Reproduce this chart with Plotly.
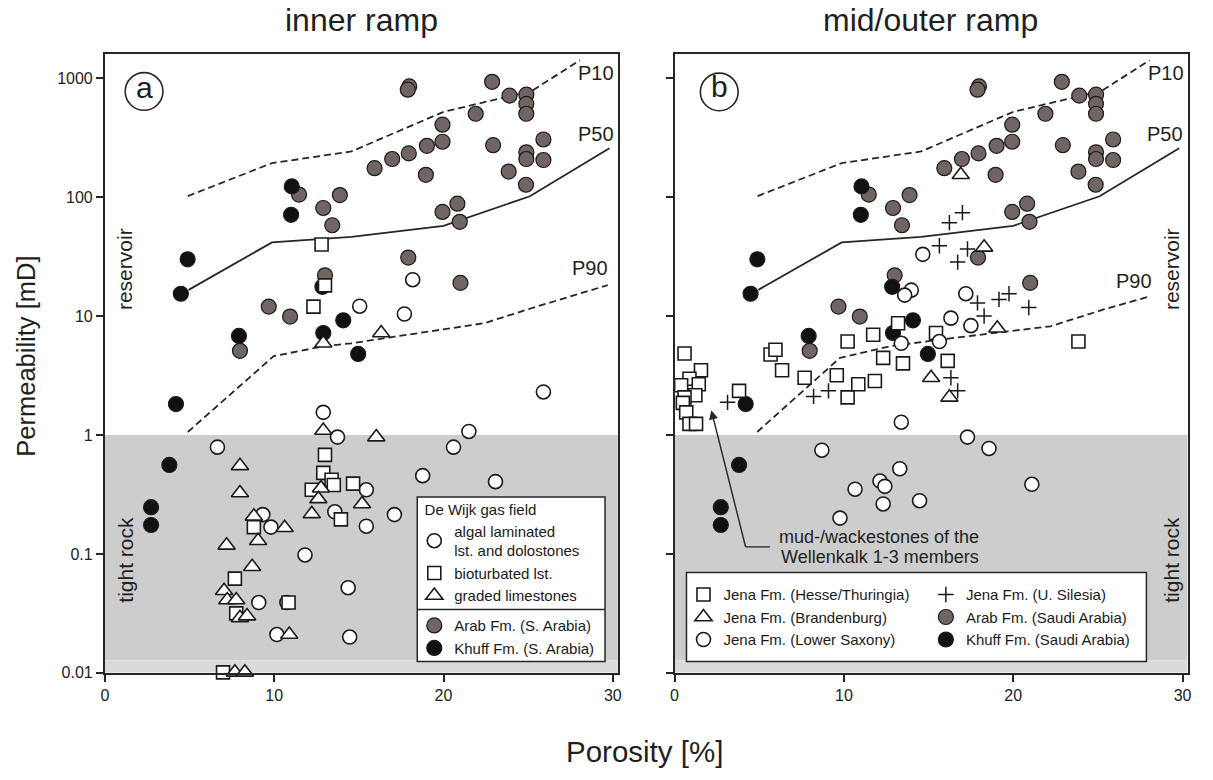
import plotly.graph_objects as go

W, H = 1213, 780

# ---------------- data (porosity %, permeability mD) ----------------
# shared reference data (both panels)
arab_x = [11.47, 12.9, 13.88, 13.43, 17.98, 17.89, 22.87, 23.9, 24.89, 24.89, 24.89, 21.9,
          19.94, 19.94, 19.02, 17.95, 16.97, 15.93, 18.96, 22.93, 25.9, 24.89, 24.89, 25.9,
          23.85, 24.87, 20.82, 19.94, 20.96, 17.92, 21.0, 9.68, 10.94, 7.98, 13.0]
arab_y = [105, 81, 104, 58, 853, 800, 931, 713, 726, 608, 502, 502,
          406, 292, 270, 233, 209, 175, 154, 273, 305, 238, 209, 205,
          164, 127, 88, 75, 62, 31, 19, 12, 9.9, 5.1, 22]
khuff_x = [11.04, 11.0, 4.89, 4.49, 7.92, 14.08, 12.9, 14.96, 4.2, 3.81, 2.73, 2.73, 12.85]
khuff_y = [123, 71, 30, 15.4, 6.8, 9.2, 7.2, 4.8, 1.82, 0.56, 0.247, 0.175, 17.6]

# percentile curves
p10_x = [4.9, 9.87, 14.56, 20.0, 25.2, 28.05]
p10_y = [102, 193, 242, 521, 779, 1412]
p50_x = [4.95, 9.87, 14.56, 20.0, 25.1, 29.8]
p50_y = [16.6, 41.6, 46.3, 57.3, 101.6, 257]
p90a_x = [4.9, 9.97, 13.0, 14.56, 17.1, 22.4, 25.5, 29.7]
p90a_y = [1.06, 4.6, 5.6, 5.9, 6.7, 8.7, 12.0, 18.2]
p90b_x = [4.88, 9.77, 12.8, 16.3, 22.2, 25.3, 27.96]
p90b_y = [1.06, 4.45, 5.6, 6.5, 8.2, 11.3, 14.5]

# (a) De Wijk gas field
algal_x = [15.05, 18.18, 17.69, 12.9, 13.74, 6.65, 25.9, 21.5, 20.59, 9.33, 9.81, 11.82,
           9.09, 10.75, 10.16, 14.37, 14.46, 13.58, 15.44, 15.44, 18.77, 23.07, 17.1]
algal_y = [12.1, 20.2, 10.4, 1.55, 0.96, 0.79, 2.3, 1.07, 0.79, 0.214, 0.168, 0.098,
           0.039, 0.039, 0.021, 0.052, 0.020, 0.226, 0.346, 0.171, 0.455, 0.405, 0.214]
biot_x = [12.8, 13.0, 12.32, 13.0, 12.9, 13.39, 13.52, 12.22, 13.94, 14.66, 8.8, 7.68,
          10.85, 7.76, 6.98]
biot_y = [40, 18.1, 12, 0.68, 0.48, 0.42, 0.38, 0.346, 0.195, 0.39, 0.168, 0.062,
          0.039, 0.0316, 0.0101]
graded_x = [12.9, 16.32, 12.9, 16.03, 7.98, 7.98, 8.8, 10.62, 7.19, 9.05, 8.7, 7.04,
            7.23, 7.76, 7.98, 8.4, 10.89, 7.68, 8.27, 12.76, 12.61, 12.22, 15.19]
graded_y = [5.9, 7.2, 1.09, 0.96, 0.55, 0.325, 0.207, 0.166, 0.118, 0.129, 0.078, 0.049,
            0.041, 0.041, 0.029, 0.030, 0.021, 0.0101, 0.0101, 0.357, 0.29, 0.217, 0.263]

# (b) Jena Fm.
hesse_x = [0.59, 1.56, 0.88, 1.43, 0.39, 1.23, 0.59, 0.49, 0.69, 0.88, 1.27, 3.81, 5.67,
           5.96, 6.35, 7.68, 9.58, 10.22, 10.22, 10.85, 11.83, 11.73, 12.32, 13.49, 13.2,
           15.44, 16.13, 23.85]
hesse_y = [4.84, 3.5, 2.97, 2.67, 2.62, 2.16, 2.07, 1.86, 1.55, 1.24, 1.24, 2.35, 4.75,
           5.2, 3.5, 3.03, 3.18, 6.1, 2.07, 2.67, 2.84, 6.96, 4.45, 4.0, 8.7,
           7.2, 4.2, 6.1]
silesia_x = [3.13, 8.21, 9.09, 17.89, 18.28, 19.16, 19.75, 20.92, 16.32, 16.72, 17.0, 16.23,
             17.3, 16.72, 15.64]
silesia_y = [1.88, 2.11, 2.35, 12.9, 10.0, 13.8, 15.4, 11.8, 3.03, 2.35, 74, 61,
             36.6, 28.4, 39]
brand_x = [16.9, 18.28, 19.06, 15.15, 16.23]
brand_y = [154, 37.8, 7.9, 3.03, 2.07]
saxony_x = [13.98, 13.59, 13.39, 13.39, 8.7, 14.66, 17.2, 16.32, 17.5, 15.64, 17.3, 18.57,
            13.3, 12.13, 12.42, 10.66, 12.32, 14.47, 9.77, 21.1]
saxony_y = [16.5, 15, 5.9, 1.28, 0.745, 33, 15.4, 9.6, 8.3, 6.1, 0.96, 0.77,
            0.52, 0.41, 0.37, 0.35, 0.263, 0.28, 0.2, 0.385]

x_ticks = [0, 10, 20, 30]
y_ticks = [0.01, 0.1, 1, 10, 100, 1000]
y_labels = ["0.01", "0.1", "1", "10", "100", "1000"]

# ---------------- styling ----------------
FONT = "Liberation Sans, Arial, sans-serif"
INK = "#262626"
ARAB_C = "#716563"
GRAY = "#cdcdcd"
XMAX = 30.3
YLOG = [-2, 3.2]
NB = "\u00a0"
LFS = 15  # legend font size


def P(px):
    return px / W


def Q(py):
    return 1 - py / H


fig = go.Figure()


def add_panel(xa, ya, p90x, p90y):
    # tight-rock shading
    fig.add_trace(go.Scatter(x=[0, XMAX, XMAX, 0, 0], y=[0.0127, 0.0127, 1, 1, 0.0127],
                             xaxis=xa, yaxis=ya, mode="lines", fill="toself",
                             fillcolor=GRAY, line=dict(width=0), hoverinfo="skip",
                             showlegend=False))
    fig.add_trace(go.Scatter(x=[0, XMAX, XMAX, 0, 0], y=[0.01, 0.01, 0.0127, 0.0127, 0.01],
                             xaxis=xa, yaxis=ya, mode="lines", fill="toself",
                             fillcolor="#dadada", line=dict(width=0), hoverinfo="skip",
                             showlegend=False))
    for xs, ys, dash in [(p10_x, p10_y, "7px,4px"), (p50_x, p50_y, "solid"),
                         (p90x, p90y, "7px,4px")]:
        fig.add_trace(go.Scatter(x=xs, y=ys, xaxis=xa, yaxis=ya, mode="lines",
                                 line=dict(color=INK, width=1.8, dash=dash),
                                 hoverinfo="skip", showlegend=False))


add_panel("x", "y", p90a_x, p90a_y)
add_panel("x2", "y2", p90b_x, p90b_y)

open_line = dict(color="#1a1a1a", width=1.6)


def pts(xs, ys, xa, ya, name, legend, rank, symbol, size, color, line, group):
    fig.add_trace(go.Scatter(
        x=xs, y=ys, xaxis=xa, yaxis=ya, mode="markers", name=name,
        legend=legend, legendrank=rank, legendgroup=group,
        marker=dict(symbol=symbol, size=size, color=color, line=line),
        cliponaxis=False))


dark_line = dict(color="#1a1a1a", width=1.2)
# panel a
pts(arab_x, arab_y, "x", "y", "Arab Fm. (S. Arabia)", "legend", 4, "circle", 15, ARAB_C, dark_line, "g2")
pts(khuff_x, khuff_y, "x", "y", "Khuff Fm. (S. Arabia)", "legend", 5, "circle", 15, "#111111", dark_line, "g2")
pts(algal_x, algal_y, "x", "y", "algal laminated<br>lst. and dolostones", "legend", 1, "circle", 14, "white", open_line, "g1")
pts(biot_x, biot_y, "x", "y", "bioturbated lst.", "legend", 2, "square", 13, "white", open_line, "g1")
pts(graded_x, graded_y, "x", "y", "graded limestones", "legend", 3, "triangle-up", 15, "white", open_line, "g1")
# panel b
pts(arab_x, arab_y, "x2", "y2", "Arab Fm. (Saudi Arabia)", "legend3", 2, "circle", 15, ARAB_C, dark_line, "h2")
pts(khuff_x, khuff_y, "x2", "y2", "Khuff Fm. (Saudi Arabia)", "legend3", 3, "circle", 15, "#111111", dark_line, "h2")
pts(hesse_x, hesse_y, "x2", "y2", "Jena Fm. (Hesse/Thuringia)", "legend2", 1, "square", 13, "white", open_line, "h1")
pts(brand_x, brand_y, "x2", "y2", "Jena Fm. (Brandenburg)", "legend2", 2, "triangle-up", 15, "white", open_line, "h1")
pts(saxony_x, saxony_y, "x2", "y2", "Jena Fm. (Lower Saxony)", "legend2", 3, "circle", 14, "white", open_line, "h1")
pts(silesia_x, silesia_y, "x2", "y2", "Jena Fm. (U. Silesia)", "legend3", 1, "cross-thin", 11, "#1a1a1a",
    dict(color="#1a1a1a", width=1.5), "h2")

axis_common = dict(range=[0, XMAX], tickvals=x_ticks, ticks="outside", ticklen=7, tickwidth=1.5,
                   tickcolor=INK, showline=True, linecolor=INK, linewidth=1.8, mirror=True,
                   showgrid=False, zeroline=False, tickfont=dict(family=FONT, size=16, color="#222"))
yaxis_common = dict(type="log", range=YLOG, tickvals=y_ticks, ticktext=y_labels, ticks="outside",
                    ticklen=7, tickwidth=1.5, tickcolor=INK, showline=True, linecolor=INK,
                    linewidth=1.8, mirror=True, showgrid=False, zeroline=False,
                    domain=[Q(680.7), Q(55)], tickfont=dict(family=FONT, size=16, color="#222"))

legend_common = dict(bgcolor="rgba(0,0,0,0)", borderwidth=0, xanchor="left", yanchor="top",
                     font=dict(family=FONT, size=LFS, color="#1a1a1a"), itemwidth=30,
                     traceorder="normal")

fig.update_layout(
    autosize=True, margin=dict(l=0, r=0, t=0, b=0),
    paper_bgcolor="white", plot_bgcolor="white",
    xaxis=dict(axis_common, domain=[P(101.5), P(618)], anchor="y"),
    xaxis2=dict(axis_common, domain=[P(675), P(1191.5)], anchor="y2"),
    yaxis=dict(yaxis_common, anchor="x"),
    yaxis2=dict(yaxis_common, anchor="x2", showticklabels=False),
    legend=dict(legend_common, x=P(413), y=Q(501), traceorder="grouped", tracegroupgap=7.5,
                title=dict(text=NB * 2 + "De Wijk gas field", font=dict(family=FONT, size=LFS))),
    legend2=dict(legend_common, x=P(684), y=Q(585)),
    legend3=dict(legend_common, x=P(928), y=Q(585)),
    showlegend=True,
)

# legend boxes
shapes = [
    dict(type="rect", xref="paper", yref="paper", x0=P(416), x1=P(605), y0=Q(669.3), y1=Q(502.7),
         fillcolor="white", line=dict(color=INK, width=1.5), layer="above"),
    dict(type="line", xref="paper", yref="paper", x0=P(416), x1=P(605), y0=Q(616.7), y1=Q(616.7),
         line=dict(color=INK, width=1.5), layer="above"),
    dict(type="rect", xref="paper", yref="paper", x0=P(687), x1=P(1150), y0=Q(669.3), y1=Q(579.3),
         fillcolor="white", line=dict(color=INK, width=1.5), layer="above"),
    # panel labels
    dict(type="circle", xref="paper", yref="paper", x0=P(122), x1=P(160), y0=Q(111.5), y1=Q(73.5),
         line=dict(color=INK, width=1.6), layer="above"),
    dict(type="circle", xref="paper", yref="paper", x0=P(701), x1=P(739), y0=Q(112), y1=Q(74),
         line=dict(color=INK, width=1.6), layer="above"),
    # leader of the arrow
    dict(type="line", xref="paper", yref="paper", x0=P(746.7), x1=P(771), y0=Q(553.3), y1=Q(553.3),
         line=dict(color=INK, width=1.3), layer="above"),
]
fig.update_layout(shapes=shapes)


def txt(s, px, py, size, xanchor="center", angle=0, color="#1f1f1f"):
    fig.add_annotation(text=s, x=P(px), y=Q(py), xref="paper", yref="paper", showarrow=False,
                       xanchor=xanchor, yanchor="middle", textangle=angle,
                       font=dict(family=FONT, size=size, color=color))


txt("inner ramp", 360, 20, 32)
txt("mid/outer ramp", 933, 20, 32)
txt("Porosity [%]", 645, 760, 29.5)
txt("Permeability [mD]", 22, 360, 25.5, angle=-90)
txt("a", 141, 89, 30)
txt("b", 720, 88, 30)
for (px, py) in [(596, 74), (1170, 74)]:
    txt("P10", px, py, 20)
for (px, py) in [(596, 136), (1168.5, 136)]:
    txt("P50", px, py, 20)
txt("P90", 590, 271, 20)
txt("P90", 1137, 284, 20)
txt("reservoir", 122, 272, 21, angle=-90)
txt("tight rock", 122, 566, 21, angle=-90)
txt("reservoir", 1176, 272, 21, angle=-90)
txt("tight rock", 1175, 566, 21, angle=-90)
txt("mud-/wackestones of the", 983, 543, 18, xanchor="right")
txt("Wellenkalk 1-3 members", 983, 563, 18, xanchor="right")

fig.add_annotation(text="", x=P(712), y=Q(415), xref="paper", yref="paper", showarrow=True,
                   ax=34.7, ay=138.3, axref="pixel", ayref="pixel", arrowhead=2, arrowsize=1.3,
                   arrowwidth=1.4, arrowcolor=INK, standoff=0)

# the figure fills the browser window exactly, pinned at its top-left corner
fig.write_html(
    "out.html",
    config={"displayModeBar": False},
    default_width="100vw",
    default_height="100vh",
    post_script=("document.body.style.margin='0';"
                 "document.documentElement.style.overflow='hidden';"
                 "var gd=document.getElementById('{plot_id}');"
                 "gd.style.position='fixed';gd.style.left='0';gd.style.top='0';"),
)
